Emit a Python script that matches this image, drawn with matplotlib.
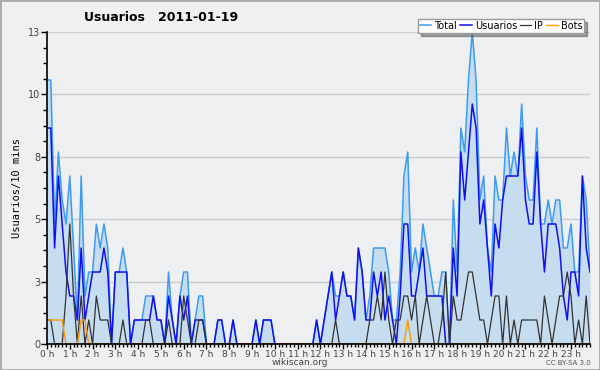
import matplotlib
matplotlib.use("Agg")
import matplotlib.pyplot as plt
from matplotlib.ticker import FixedLocator, MultipleLocator
import numpy as np

# 10-minute bins over the day (144 points)
usuarios = [9, 9, 4, 7, 5, 3, 2, 2, 1, 4, 1, 2, 3, 3, 3, 4, 3, 0, 3, 3, 3, 3, 0, 1,
            1, 1, 1, 1, 2, 1, 1, 0, 2, 1, 0, 2, 1, 2, 0, 1, 1, 1, 0, 0, 0, 1, 1, 0,
            0, 1, 0, 0, 0, 0, 0, 1, 0, 1, 1, 1, 0, 0, 0, 0, 0, 0, 0, 0, 0, 0, 0, 1,
            0, 1, 2, 3, 1, 2, 3, 2, 2, 1, 4, 3, 1, 1, 3, 2, 3, 1, 2, 1, 0, 2, 5, 5,
            2, 2, 3, 4, 2, 2, 2, 2, 2, 0, 0, 4, 2, 8, 6, 8, 10, 9, 5, 6, 4, 2, 5, 4,
            6, 7, 7, 7, 7, 9, 6, 5, 5, 8, 5, 3, 5, 5, 5, 4, 2, 1, 3, 3, 2, 7, 4, 3]
ip = [1, 1, 0, 0, 0, 2, 5, 2, 0, 2, 0, 1, 0, 2, 1, 1, 1, 0, 0, 0, 1, 0, 0, 0,
      0, 0, 1, 1, 0, 0, 0, 0, 1, 0, 0, 0, 2, 1, 0, 0, 1, 1, 0, 0, 0, 0, 0, 0,
      0, 0, 0, 0, 0, 0, 0, 0, 0, 0, 0, 0, 0, 0, 0, 0, 0, 0, 0, 0, 0, 0, 0, 0,
      0, 0, 0, 0, 1, 0, 0, 0, 0, 0, 0, 0, 0, 1, 1, 2, 1, 3, 1, 0, 1, 1, 2, 2,
      1, 2, 0, 1, 2, 1, 0, 0, 1, 3, 0, 2, 1, 1, 2, 3, 3, 2, 1, 1, 0, 1, 2, 2,
      0, 2, 0, 1, 0, 1, 1, 1, 1, 1, 0, 2, 1, 0, 1, 2, 2, 3, 2, 0, 1, 0, 2, 0]
bots = [1, 1, 1, 1, 1, 0, 0, 0, 0, 1, 1, 0, 0, 0, 0, 0, 0, 0, 0, 0, 0, 0, 0, 0,
        0, 0, 0, 0, 0, 0, 0, 0, 0, 0, 0, 0, 0, 0, 0, 0, 0, 0, 0, 0, 0, 0, 0, 0,
        0, 0, 0, 0, 0, 0, 0, 0, 0, 0, 0, 0, 0, 0, 0, 0, 0, 0, 0, 0, 0, 0, 0, 0,
        0, 0, 0, 0, 0, 0, 0, 0, 0, 0, 0, 0, 0, 0, 0, 0, 0, 0, 0, 0, 0, 0, 0, 1,
        0, 0, 0, 0, 0, 0, 0, 0, 0, 0, 0, 0, 0, 0, 0, 0, 0, 0, 0, 0, 0, 0, 0, 0,
        0, 0, 0, 0, 0, 0, 0, 0, 0, 0, 0, 0, 0, 0, 0, 0, 0, 0, 0, 0, 0, 0, 0, 0]
total = [11, 11, 5, 8, 6, 5, 7, 4, 1, 7, 2, 3, 3, 5, 4, 5, 4, 0, 3, 3, 4, 3, 0, 1,
         1, 1, 2, 2, 2, 1, 1, 0, 3, 1, 0, 2, 3, 3, 0, 1, 2, 2, 0, 0, 0, 1, 1, 0,
         0, 1, 0, 0, 0, 0, 0, 1, 0, 1, 1, 1, 0, 0, 0, 0, 0, 0, 0, 0, 0, 0, 0, 1,
         0, 1, 2, 3, 2, 2, 3, 2, 2, 1, 4, 3, 1, 2, 4, 4, 4, 4, 3, 1, 1, 3, 7, 8,
         3, 4, 3, 5, 4, 3, 2, 2, 3, 3, 0, 6, 3, 9, 8, 11, 13, 11, 6, 7, 4, 3, 7, 6,
         6, 9, 7, 8, 7, 10, 7, 6, 6, 9, 5, 5, 6, 5, 6, 6, 4, 4, 5, 3, 3, 7, 6, 3]

hour_labels = [f"{h} h" for h in range(24)]
y_ticks = [0, 2.6, 5.2, 7.8, 10.4, 13]
y_labels = ["0", "3", "5", "8", "10", "13"]

x = np.arange(len(total))

fig = plt.figure(figsize=(6, 3.7), dpi=100, facecolor="#f0f0f0")
ax = fig.add_axes([47 / 600, 26 / 370, 543 / 600, 312 / 370])
ax.set_facecolor("#eeeff1")

ax.fill_between(x, total, color="#c6dcef", lw=0)
ax.plot(x, total, color="#3d9cf0", lw=1.1, label="Total")
ax.plot(x, usuarios, color="#1010f0", lw=1.1, label="Usuarios")
ax.plot(x, ip, color="#333333", lw=0.9, label="IP")
ax.plot(x, bots, color="#ff9900", lw=1.0, label="Bots")

ax.set_xlim(0, 143)
ax.set_ylim(0, 13)
for yt in y_ticks[1:]:
    ax.axhline(yt, color="#cccccc", lw=1, zorder=0)

ax.yaxis.set_major_locator(FixedLocator(y_ticks))
ax.set_yticklabels(y_labels, fontsize=7, color="#444444")
ax.yaxis.set_minor_locator(MultipleLocator(0.65))
ax.set_xticks(np.arange(0, 144, 6))
ax.set_xticklabels(hour_labels, fontsize=6.5, color="#444444")
ax.xaxis.set_minor_locator(MultipleLocator(1))
ax.tick_params(axis="y", which="major", length=4, width=1, color="black", pad=1)
ax.tick_params(axis="y", which="minor", length=3, width=1, color="black")
ax.tick_params(axis="x", which="major", length=3.5, width=1, color="black", pad=0.5)
ax.tick_params(axis="x", which="minor", length=2.5, width=1, color="black")

for s in ["top", "right"]:
    ax.spines[s].set_visible(False)
ax.spines["left"].set_linewidth(1.2)
ax.spines["bottom"].set_linewidth(1.2)

ax.set_ylabel("Usuarios/10 mins", fontsize=7.5, family="DejaVu Sans Mono", labelpad=4)

fig.text(0.268, 0.953, "Usuarios   2011-01-19", fontsize=9, fontweight="bold",
         ha="center", va="center")
fig.text(0.5, 0.019, "wikiscan.org", fontsize=6.5, color="#444444", ha="center", va="center")
fig.text(0.985, 0.02, "CC BY-SA 3.0", fontsize=5, color="#555555", ha="right", va="center")

leg = fig.legend(loc="upper right", bbox_to_anchor=(0.982, 0.962), ncol=4, fontsize=7,
                 frameon=True, fancybox=False, shadow=True, handlelength=1.2,
                 handletextpad=0.3, columnspacing=0.3, borderpad=0.2)
leg.get_frame().set_edgecolor("#999999")
leg.get_frame().set_linewidth(1)

fig.patches.append(plt.Rectangle((0, 0), 1, 1, transform=fig.transFigure, fill=False,
                                 edgecolor="#aaaaaa", lw=2))

fig.savefig("out.png", dpi=100, facecolor=fig.get_facecolor())
